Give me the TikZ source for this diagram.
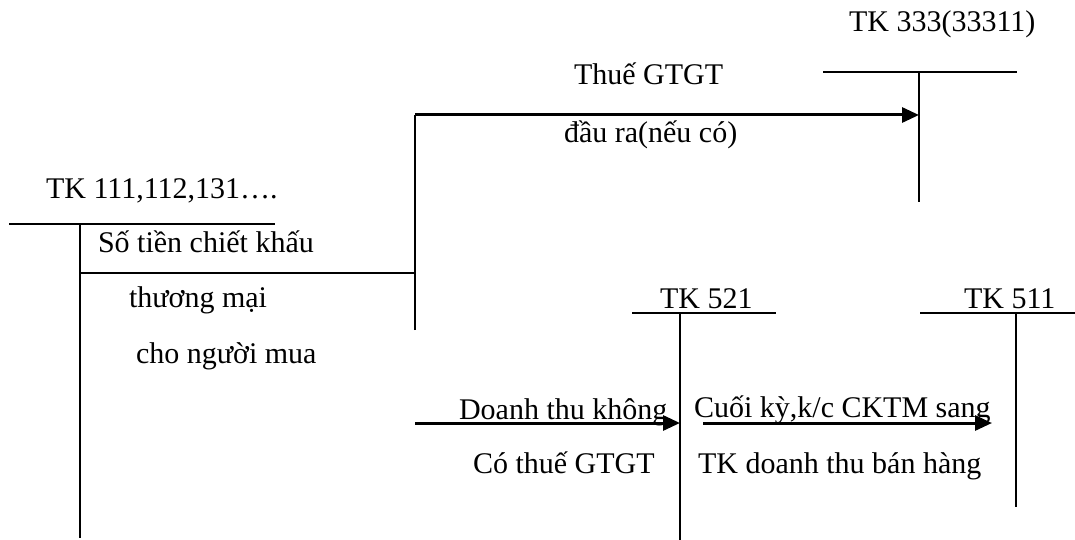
\documentclass[tikz,border=0pt]{standalone}
\usepackage{fontspec}
\setmainfont{Liberation Serif}
\usetikzlibrary{arrows.meta}

\begin{document}
\begin{tikzpicture}[x=1pt,y=-1pt,line width=2.1pt,
  lbl/.style={anchor=base west,inner sep=0pt,font=\fontsize{30}{36}\selectfont},
  flow/.style={line width=3pt,-{Triangle[length=17pt,width=15pt]}}]
\useasboundingbox (0,0) rectangle (1075,540);

% T accounts
\coordinate (tienL) at (9,224);
\coordinate (tienR) at (275,224);
\coordinate (tienTop) at (80,224);
\coordinate (tienBot) at (80,538);
\coordinate (thueL) at (823,72);
\coordinate (thueR) at (1017,72);
\coordinate (thueTop) at (919,72);
\coordinate (thueBot) at (919,202);
\coordinate (ckL) at (632,313);
\coordinate (ckR) at (776,313);
\coordinate (ckTop) at (680,313);
\coordinate (ckBot) at (680,540);
\coordinate (dtL) at (920,313);
\coordinate (dtR) at (1075,313);
\coordinate (dtTop) at (1016,313);
\coordinate (dtBot) at (1016,507);

\draw (tienL)--(tienR);
\draw (tienTop)--(tienBot);
\draw (thueL)--(thueR);
\draw (thueTop)--(thueBot);
\draw (ckL)--(ckR);
\draw (ckTop)--(ckBot);
\draw (dtL)--(dtR);
\draw (dtTop)--(dtBot);

\node[lbl] (tien) at (45,198) {TK 111,112,131….};
\node[lbl] (thue) at (848,32) {TK 333(33311)};
\node[lbl] (ck) at (659,308) {TK 521};
\node[lbl] (dt) at (963,308) {TK 511};

% chiet khau branch
\coordinate (split) at (80,273);
\coordinate (fork) at (415,273);
\coordinate (forkTop) at (415,115);
\coordinate (forkBot) at (415,330);
\coordinate (thueIn) at (919,115);
\draw (split)--(fork);
\draw (forkBot)--(forkTop);
\draw[flow] (forkTop)--(thueIn);

\node[lbl] (ckText1) at (97,252) {Số tiền chiết khấu};
\node[lbl] (ckText2) at (128,307) {thương mại};
\node[lbl] (ckText3) at (135,363) {cho người mua};
\node[lbl] (vat1) at (573,85) {Thuế GTGT};
\node[lbl] (vat2) at (563,143) {đầu ra(nếu có)};

% lower flows
\coordinate (dtOut) at (415,423);
\coordinate (ckIn) at (680,423);
\coordinate (ckOut) at (703,423);
\coordinate (dtIn) at (992,423);
\draw[flow] (dtOut)--(ckIn);
\draw[flow] (ckOut)--(dtIn);

\node[lbl] (net1) at (458,419) {Doanh thu không};
\node[lbl] (net2) at (472,473) {Có thuế GTGT};
\node[lbl] (kc1) at (693,417) {Cuối kỳ,k/c CKTM sang};
\node[lbl] (kc2) at (697,473) {TK doanh thu bán hàng};

\end{tikzpicture}
\end{document}
